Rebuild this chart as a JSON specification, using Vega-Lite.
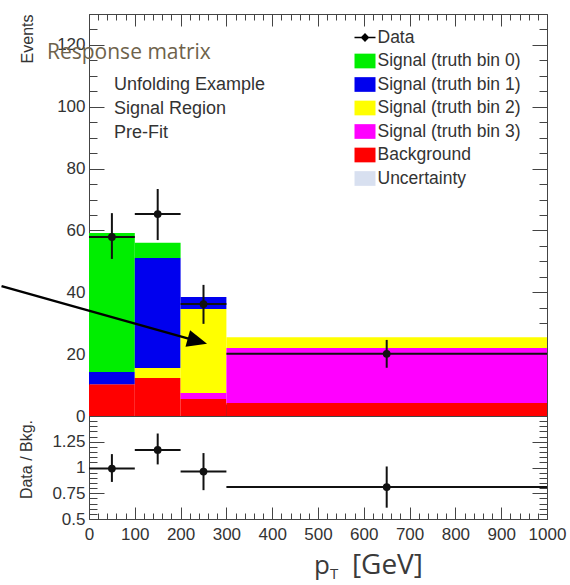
{
  "$schema": "https://vega.github.io/schema/vega-lite/v6.json",
  "padding": {"left": 0, "top": 5, "right": 5, "bottom": 5},
  "spacing": 0,
  "bounds": "flush",
  "config": {
    "view": {"stroke": null},
    "axis": {
      "grid": false,
      "domain": true,
      "domainColor": "#444",
      "tickColor": "#444",
      "labelFont": "Liberation Sans",
      "labelFontSize": 17,
      "labelColor": "#333",
      "labelFlush": false,
      "labelOverlap": false,
      "zindex": 1
    }
  },
  "datasets": {
    "stack": [
      {"lo": 0, "hi": 100, "process": "Background", "layer": 0, "events": 10.3},
      {"lo": 0, "hi": 100, "process": "Signal (truth bin 1)", "layer": 3, "events": 3.9},
      {"lo": 0, "hi": 100, "process": "Signal (truth bin 0)", "layer": 4, "events": 45.0},
      {"lo": 100, "hi": 200, "process": "Background", "layer": 0, "events": 12.3},
      {"lo": 100, "hi": 200, "process": "Signal (truth bin 2)", "layer": 2, "events": 3.2},
      {"lo": 100, "hi": 200, "process": "Signal (truth bin 1)", "layer": 3, "events": 35.6},
      {"lo": 100, "hi": 200, "process": "Signal (truth bin 0)", "layer": 4, "events": 4.9},
      {"lo": 200, "hi": 300, "process": "Background", "layer": 0, "events": 5.5},
      {"lo": 200, "hi": 300, "process": "Signal (truth bin 3)", "layer": 1, "events": 1.9},
      {"lo": 200, "hi": 300, "process": "Signal (truth bin 2)", "layer": 2, "events": 27.2},
      {"lo": 200, "hi": 300, "process": "Signal (truth bin 1)", "layer": 3, "events": 3.9},
      {"lo": 300, "hi": 1000, "process": "Background", "layer": 0, "events": 4.2},
      {"lo": 300, "hi": 1000, "process": "Signal (truth bin 3)", "layer": 1, "events": 17.8},
      {"lo": 300, "hi": 1000, "process": "Signal (truth bin 2)", "layer": 2, "events": 3.5}
    ],
    "observed": [
      {"lo": 0, "hi": 100, "c": 50, "n": 57.9, "nlo": 50.8, "nhi": 65.6, "r": 0.99, "rlo": 0.86, "rhi": 1.13},
      {"lo": 100, "hi": 200, "c": 150, "n": 65.3, "nlo": 56.9, "nhi": 73.4, "r": 1.17, "rlo": 1.03, "rhi": 1.33},
      {"lo": 200, "hi": 300, "c": 250, "n": 36.2, "nlo": 29.8, "nhi": 42.4, "r": 0.96, "rlo": 0.78, "rhi": 1.14},
      {"lo": 300, "hi": 1000, "c": 650, "n": 20.1, "nlo": 15.6, "nhi": 24.6, "r": 0.81, "rlo": 0.61, "rhi": 1.01}
    ],
    "info": [
      {"x": 54.6, "y": 105.4, "text": "Unfolding Example"},
      {"x": 54.6, "y": 97.7, "text": "Signal Region"},
      {"x": 54.6, "y": 89.9, "text": "Pre-Fit"}
    ],
    "note": [{"x": -91.7, "y": 115.5, "text": "Response matrix"}],
    "arrow": [{"x": -191, "y": 42.0, "x2": 236.7, "y2": 24.2}],
    "xtitle": [{"x": 491, "y": -0.034}]
  },
  "vconcat": [
    {
      "width": 458,
      "height": 402,
      "resolve": {"axis": {"x": "independent", "y": "independent"}},
      "layer": [
        {
          "data": {"name": "stack"},
          "transform": [
            {"stack": "events", "groupby": ["lo"], "sort": [{"field": "layer", "order": "ascending"}], "as": ["y0", "y1"]}
          ],
          "mark": {"type": "rect"},
          "encoding": {
            "x": {
              "field": "lo", "type": "quantitative",
              "scale": {"domain": [0, 1000], "nice": false},
              "axis": {
                "orient": "bottom", "title": null, "labels": false,
                "values": {"expr": "sequence(0, 1001, 20)"},
                "tickSize": {"condition": {"test": "datum.value % 100 === 0", "value": -12}, "value": -6}
              }
            },
            "x2": {"field": "hi"},
            "y": {
              "field": "y0", "type": "quantitative",
              "scale": {"domain": [0, 130], "nice": false},
              "axis": {
                "orient": "left",
                "title": "Events",
                "titleFont": "Liberation Sans", "titleFontSize": 16, "titleFontWeight": "normal", "titleColor": "#333",
                "titleAngle": -90, "titleAlign": "right", "titleBaseline": "alphabetic",
                "titleX": -57, "titleY": 0,
                "values": {"expr": "sequence(0, 131, 5)"},
                "labelExpr": "datum.value % 20 === 0 ? datum.label : ''",
                "labelPadding": 19,
                "tickSize": {"condition": {"test": "datum.value % 20 === 0", "value": -15}, "value": -8}
              }
            },
            "y2": {"field": "y1"},
            "color": {
              "field": "process", "type": "nominal",
              "scale": {
                "domain": ["Data", "Signal (truth bin 0)", "Signal (truth bin 1)", "Signal (truth bin 2)", "Signal (truth bin 3)", "Background", "Uncertainty"],
                "range": ["#000000", "#00ee00", "#0000ee", "#ffff00", "#ff00ff", "#ff0000", "#d8e0f0"]
              },
              "legend": {
                "orient": "none", "legendX": 265.5, "legendY": 13, "title": null,
                "symbolType": "M-1,-0.7L1,-0.7L1,0.7L-1,0.7Z", "symbolSize": 441, "symbolStrokeWidth": 0,
                "labelFont": "Liberation Sans", "labelFontSize": 17.5, "labelColor": "#333",
                "labelOffset": 2, "rowPadding": 4.5, "labelLimit": 300,
                "encode": {
                  "symbols": {
                    "update": {
                      "shape": [
                        {"test": "datum.value === 'Data'", "value": "M-1,-0.06L1,-0.06L1,0.06L-1,0.06Z M0,-0.42L0.42,0L0,0.42L-0.42,0Z"},
                        {"value": "M-1,-0.7L1,-0.7L1,0.7L-1,0.7Z"}
                      ]
                    }
                  }
                }
              }
            }
          }
        },
        {
          "data": {"name": "observed"},
          "mark": {"type": "rule", "color": "#111", "strokeWidth": 2},
          "encoding": {
            "x": {
              "field": "c", "type": "quantitative",
              "axis": {
                "orient": "top", "title": null, "labels": false,
                "values": {"expr": "sequence(0, 1001, 20)"},
                "tickSize": {"condition": {"test": "datum.value % 100 === 0", "value": -12}, "value": -6}
              }
            },
            "y": {
              "field": "nlo", "type": "quantitative",
              "axis": {
                "orient": "right", "title": null, "labels": false,
                "values": {"expr": "sequence(0, 131, 5)"},
                "tickSize": {"condition": {"test": "datum.value % 20 === 0", "value": -15}, "value": -8}
              }
            },
            "y2": {"field": "nhi"}
          }
        },
        {
          "data": {"name": "observed"},
          "mark": {"type": "rule", "color": "#111", "strokeWidth": 2},
          "encoding": {
            "x": {"field": "lo", "type": "quantitative", "axis": null},
            "x2": {"field": "hi"},
            "y": {"field": "n", "type": "quantitative", "axis": null}
          }
        },
        {
          "data": {"name": "observed"},
          "mark": {"type": "point", "filled": true, "shape": "circle", "size": 60, "color": "#111", "opacity": 1},
          "encoding": {
            "x": {"field": "c", "type": "quantitative", "axis": null},
            "y": {"field": "n", "type": "quantitative", "axis": null}
          }
        },
        {
          "data": {"name": "info"},
          "mark": {"type": "text", "align": "left", "baseline": "alphabetic", "font": "Liberation Sans", "fontSize": 18, "color": "#333"},
          "encoding": {
            "x": {"field": "x", "type": "quantitative", "axis": null},
            "y": {"field": "y", "type": "quantitative", "axis": null},
            "text": {"field": "text"}
          }
        },
        {
          "data": {"name": "arrow"},
          "mark": {"type": "rule", "color": "#000", "strokeWidth": 2.5},
          "encoding": {
            "x": {"field": "x", "type": "quantitative", "axis": null},
            "x2": {"field": "x2"},
            "y": {"field": "y", "type": "quantitative", "axis": null},
            "y2": {"field": "y2"}
          }
        },
        {
          "data": {"name": "arrow"},
          "mark": {"type": "point", "filled": true, "shape": "M1,0L-1,-0.85L-1,0.85Z", "size": 400, "angle": 15.6, "color": "#000", "opacity": 1},
          "encoding": {
            "x": {"field": "x2", "type": "quantitative", "axis": null},
            "y": {"field": "y2", "type": "quantitative", "axis": null}
          }
        },
        {
          "data": {"name": "note"},
          "mark": {"type": "text", "align": "left", "baseline": "alphabetic", "font": "Open Sans", "fontSize": 21, "color": "#6e624b"},
          "encoding": {
            "x": {"field": "x", "type": "quantitative", "axis": null},
            "y": {"field": "y", "type": "quantitative", "axis": null},
            "text": {"field": "text"}
          }
        }
      ]
    },
    {
      "width": 458,
      "height": 103,
      "resolve": {"axis": {"x": "independent", "y": "independent"}},
      "layer": [
        {
          "mark": {"type": "rule", "color": "#444", "strokeWidth": 1.5, "strokeDash": [2, 3]},
          "encoding": {
            "y": {"datum": 1, "type": "quantitative", "axis": null}
          }
        },
        {
          "data": {"name": "observed"},
          "mark": {"type": "rule", "color": "#111", "strokeWidth": 2},
          "encoding": {
            "x": {
              "field": "c", "type": "quantitative",
              "scale": {"domain": [0, 1000], "nice": false},
              "axis": {
                "orient": "bottom", "title": null, "format": "d",
                "values": {"expr": "sequence(0, 1001, 20)"},
                "labelExpr": "datum.value % 100 === 0 ? datum.label : ''",
                "labelPadding": 19,
                "tickSize": {"condition": {"test": "datum.value % 100 === 0", "value": -12}, "value": -6}
              }
            },
            "y": {
              "field": "rlo", "type": "quantitative",
              "scale": {"domain": [0.5, 1.5], "nice": false, "zero": false},
              "axis": {
                "orient": "left",
                "title": "Data / Bkg.",
                "titleFont": "Liberation Sans", "titleFontSize": 16, "titleFontWeight": "normal", "titleColor": "#333",
                "titleAngle": -90, "titleAlign": "center", "titleBaseline": "alphabetic",
                "titleX": -58, "titleY": 43,
                "values": {"expr": "sequence(0.5, 1.501, 0.05)"},
                "labelExpr": "abs(datum.value * 4 - round(datum.value * 4)) < 0.001 && datum.value < 1.4 ? format(datum.value, '~g') : ''",
                "labelPadding": 19,
                "tickSize": {"condition": {"test": "abs(datum.value * 4 - round(datum.value * 4)) < 0.001", "value": -15}, "value": -8}
              }
            },
            "y2": {"field": "rhi"}
          }
        },
        {
          "data": {"name": "observed"},
          "mark": {"type": "rule", "color": "#111", "strokeWidth": 2},
          "encoding": {
            "x": {"field": "lo", "type": "quantitative", "axis": null},
            "x2": {"field": "hi"},
            "y": {
              "field": "r", "type": "quantitative",
              "axis": {
                "orient": "right", "title": null, "labels": false,
                "values": {"expr": "sequence(0.5, 1.501, 0.05)"},
                "tickSize": {"condition": {"test": "abs(datum.value * 4 - round(datum.value * 4)) < 0.001", "value": -15}, "value": -8}
              }
            }
          }
        },
        {
          "data": {"name": "observed"},
          "mark": {"type": "point", "filled": true, "shape": "circle", "size": 60, "color": "#111", "opacity": 1},
          "encoding": {
            "x": {"field": "c", "type": "quantitative", "axis": null},
            "y": {"field": "r", "type": "quantitative", "axis": null}
          }
        },
        {
          "data": {"name": "xtitle"},
          "layer": [
            {
              "mark": {"type": "text", "text": "p", "align": "left", "baseline": "alphabetic", "font": "Open Sans", "fontSize": 26, "color": "#3a3a3a"},
              "encoding": {
                "x": {"field": "x", "type": "quantitative", "axis": null},
                "y": {"field": "y", "type": "quantitative", "axis": null}
              }
            },
            {
              "mark": {"type": "text", "text": "T", "align": "left", "baseline": "alphabetic", "font": "Open Sans", "fontSize": 15, "color": "#3a3a3a", "dx": 16, "dy": 5},
              "encoding": {
                "x": {"field": "x", "type": "quantitative", "axis": null},
                "y": {"field": "y", "type": "quantitative", "axis": null}
              }
            },
            {
              "mark": {"type": "text", "text": "[GeV]", "align": "left", "baseline": "alphabetic", "font": "Open Sans", "fontSize": 28, "color": "#3a3a3a", "dx": 38},
              "encoding": {
                "x": {"field": "x", "type": "quantitative", "axis": null},
                "y": {"field": "y", "type": "quantitative", "axis": null}
              }
            }
          ]
        }
      ]
    }
  ]
}
